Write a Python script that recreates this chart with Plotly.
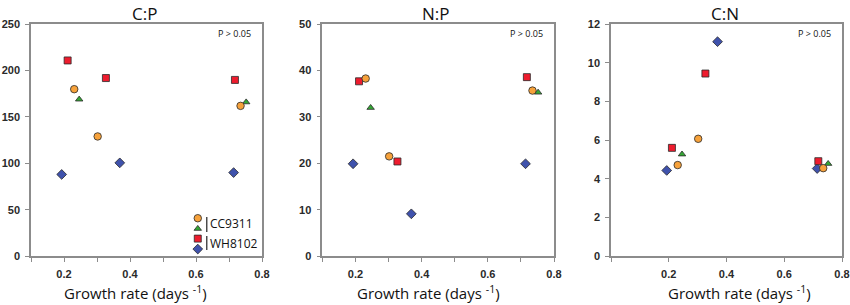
import plotly.graph_objects as go

# ---------------- data ----------------
# growth rates (days^-1) per series
x_orange = [0.231, 0.302, 0.735]   # CC9311 (circle)
x_green = [0.246, 0.752]           # CC9311 (triangle)
x_red = [0.211, 0.327, 0.718]      # WH8102 (square)
x_blue = [0.193, 0.369, 0.714]     # WH8102 (diamond)

cp_orange = [180, 129, 162]
cp_green = [169, 166]
cp_red = [211, 192, 190]
cp_blue = [88, 100.5, 90]

np_orange = [38.3, 21.5, 35.7]
np_green = [32.0, 35.3]
np_red = [37.7, 20.4, 38.6]
np_blue = [19.9, 9.1, 19.9]

cn_orange = [4.71, 6.07, 4.55]
cn_green = [5.27, 4.78]
cn_red = [5.6, 9.45, 4.91]
cn_blue = [4.43, 11.1, 4.53]

panel_titles = ["C:P", "N:P", "C:N"]
strain_labels = ["CC9311", "WH8102"]

W, H = 850, 305
C_ORANGE = "#F7A23B"
C_GREEN = "#35A835"
C_RED = "#EE1C2E"
C_BLUE = "#3F52AC"
EDGE = "#2a2a2a"
AX = "#8c8c8c"

fig = go.Figure()

styles = [
    ("blue", "diamond", C_BLUE, 7.5),
    ("red", "square", C_RED, 7),
    ("green", "triangle-up", C_GREEN, 6.5),
    ("orange", "circle", C_ORANGE, 7.5),
]
xs = {"orange": x_orange, "green": x_green, "red": x_red, "blue": x_blue}
panels = [
    {"orange": cp_orange, "green": cp_green, "red": cp_red, "blue": cp_blue},
    {"orange": np_orange, "green": np_green, "red": np_red, "blue": np_blue},
    {"orange": cn_orange, "green": cn_green, "red": cn_red, "blue": cn_blue},
]

for i, pdata in enumerate(panels):
    ax = "" if i == 0 else str(i + 1)
    for key, sym, col, sz in styles:
        fig.add_trace(go.Scatter(
            x=xs[key], y=pdata[key], mode="markers",
            marker=dict(symbol=sym, color=col, size=sz,
                        line=dict(color=EDGE, width=0.8)),
            xaxis="x" + ax, yaxis="y" + ax, showlegend=False,
            hoverinfo="x+y"))

# pixel geometry -> domains
def xd(a, b):
    return [a / W, b / W]

ydom = [1 - 256 / H, 1 - 24.3 / H]
xdoms = [xd(31, 262), xd(322.3, 554), xd(611, 842)]

tick_font = dict(family="Liberation Sans, Arial, sans-serif", size=11,
                 color="#2a2a2a", weight="bold")
common_axis = dict(showgrid=False, zeroline=False, showline=True, linecolor=AX,
                   linewidth=1.5, mirror=True, ticks="outside", ticklen=4,
                   tickcolor=AX, tickwidth=1, tickfont=tick_font, automargin=False)

yranges = [[0, 250], [0, 50], [0, 12]]
ydt = [50, 10, 2]

layout = dict(width=W, height=H, margin=dict(l=0, r=0, t=0, b=0),
              paper_bgcolor="white", plot_bgcolor="white", showlegend=False)
for i in range(3):
    ax = "" if i == 0 else str(i + 1)
    if i < 2:
        xr = [0.1, 0.8]
        minor = dict(ticks="outside", dtick=0.1, tick0=0.1, ticklen=4,
                     tickcolor=AX, tickwidth=1, showgrid=False)
    else:
        xr = [0.0, 0.8]
        minor = dict(ticks="outside", tickvals=[0.0], ticklen=4,
                     tickcolor=AX, tickwidth=1, showgrid=False)
    layout["xaxis" + ax] = dict(common_axis, domain=xdoms[i], range=xr,
                                anchor="y" + ax, tickmode="array",
                                tickvals=[0.2, 0.4, 0.6, 0.8],
                                ticktext=["0.2", "0.4", "0.6", "0.8"],
                                minor=minor, ticklabelstandoff=3)
    layout["yaxis" + ax] = dict(common_axis, domain=ydom, range=yranges[i],
                                anchor="x" + ax, dtick=ydt[i], tick0=0,
                                ticklabelstandoff=3)

# overlay axes for the legend glyphs in panel 1
layout["xaxis4"] = dict(overlaying="x", range=[0, 1], visible=False, anchor="y4")
layout["yaxis4"] = dict(overlaying="y", range=[0, 1], visible=False, anchor="x4")
fig.update_layout(**layout)

leg_syms = [("circle", C_ORANGE, 7.5), ("triangle-up", C_GREEN, 6.5),
            ("square", C_RED, 7), ("diamond", C_BLUE, 7.5)]
leg_y = [0.163, 0.118, 0.075, 0.030]
for (sym, col, sz), yy in zip(leg_syms, leg_y):
    fig.add_trace(go.Scatter(x=[0.722], y=[yy], mode="markers",
                             marker=dict(symbol=sym, color=col, size=sz,
                                         line=dict(color=EDGE, width=0.8)),
                             xaxis="x4", yaxis="y4", showlegend=False,
                             hoverinfo="skip"))

# legend bars and labels
for (y0, y1), lab, ym in zip([(0.104, 0.168), (0.026, 0.086)], strain_labels,
                             [0.142, 0.056]):
    fig.add_shape(type="line", xref="x4", yref="y4", x0=0.761, x1=0.761,
                  y0=y0, y1=y1, line=dict(color="#222", width=1.2))
    fig.add_annotation(xref="x4", yref="y4", x=0.768, y=ym, text=lab,
                       showarrow=False, xanchor="left", yanchor="middle",
                       font=dict(family="Open Sans, sans-serif", size=12,
                                 color="#111"))

title_font = dict(family="Open Sans, sans-serif", size=17, color="#111")
xtitle_x = [135, 428, 739]
for i in range(3):
    cx = (xdoms[i][0] + xdoms[i][1]) / 2
    fig.add_annotation(xref="paper", yref="paper", x=cx - 2 / W, y=1 - 13 / H,
                       text=panel_titles[i], showarrow=False,
                       xanchor="center", yanchor="middle", font=title_font)
    fig.add_annotation(xref="paper", yref="paper", x=xtitle_x[i] / W,
                       y=1 - 292 / H,
                       text="Growth rate (days <sup>-1</sup>)", showarrow=False,
                       xanchor="center", yanchor="middle",
                       font=dict(family="Open Sans, sans-serif", size=15,
                                 color="#111"))
    ax = "" if i == 0 else str(i + 1)
    fig.add_annotation(xref="x" + ax + " domain", yref="y" + ax + " domain",
                       x=1, y=1, xshift=-9, yshift=-9, text="P > 0.05",
                       showarrow=False, xanchor="right", yanchor="middle",
                       font=dict(family="Open Sans, sans-serif", size=9,
                                 color="#111"))

fig.write_html("out.html", config={"displayModeBar": False},
               post_script="document.body.style.margin='0';document.body.style.padding='0';")
